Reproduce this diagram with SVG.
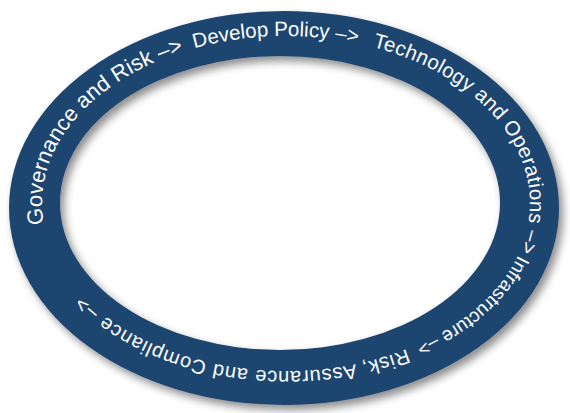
<svg xmlns="http://www.w3.org/2000/svg" xmlns:xlink="http://www.w3.org/1999/xlink" width="570" height="413" viewBox="0 0 570 413">
  <style>
    .ring { fill: #1f4470; fill-rule: evenodd; filter: url(#shadow); }
    .label { fill: #ffffff; font-family: "Liberation Sans", Arial, sans-serif; }
  </style>
  <defs>
    <filter id="shadow" x="-10%" y="-10%" width="125%" height="125%">
      <feDropShadow dx="4" dy="5" stdDeviation="4" flood-color="#000000" flood-opacity="0.45"/>
    </filter>
    <path id="baseline" d="M 286 371 A 244 167.5 0 0 1 42 203.5 A 244 167.5 0 0 1 286 36 A 244 167.5 0 0 1 530 203.5 A 244 167.5 0 0 1 286 371 A 244 167.5 0 0 1 42 203.5" fill="none"/>
  </defs>
  <rect width="570" height="413" fill="#ffffff"/>
  <g id="cycle-ring">
    <path class="ring" d="M 9 208 A 275 197 0 1 1 559 208 A 275 197 0 1 1 9 208 Z M 60 203 A 220 147 0 1 0 500 203 A 220 147 0 1 0 60 203 Z"/>
  </g>
  <g id="cycle-label">
    <text class="label" font-size="22"><textPath xlink:href="#baseline" href="#baseline" startOffset="305">Governance and Risk –&gt;</textPath></text>
    <text class="label" font-size="20.5"><textPath xlink:href="#baseline" href="#baseline" startOffset="559">Develop Policy –&gt;</textPath></text>
    <text class="label" font-size="20.5"><textPath xlink:href="#baseline" href="#baseline" startOffset="739" textLength="288" lengthAdjust="spacing">Technology and Operations –&gt;</textPath></text>
    <text class="label" font-size="19"><textPath xlink:href="#baseline" href="#baseline" startOffset="1031">Infrastructure –&gt;</textPath></text>
    <text class="label" font-size="20"><textPath xlink:href="#baseline" href="#baseline" startOffset="1180" textLength="346" lengthAdjust="spacing">Risk, Assurance and Compliance –&gt;</textPath></text>
  </g>
</svg>
